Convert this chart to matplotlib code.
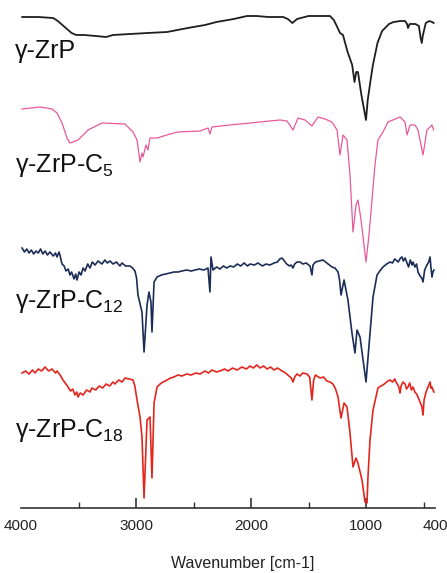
import numpy as np
import matplotlib
matplotlib.use("Agg")
import matplotlib.pyplot as plt

plt.rcParams['font.family'] = ['Liberation Sans', 'DejaVu Sans']
plt.rcParams['mathtext.fontset'] = 'custom'
plt.rcParams['mathtext.rm'] = 'Liberation Sans'
plt.rcParams['mathtext.it'] = 'Liberation Sans'

# ---------------------------------------------------------------------------
# FTIR spectra, stacked (offset transmittance, a.u.)
# ---------------------------------------------------------------------------
wn_zrp = [3990, 3850, 3720, 3680, 3620, 3560, 3520, 3450, 3350, 3260, 3200, 3050, 2900,
          2730, 2550, 2400, 2300, 2150, 2035, 1950, 1850, 1720, 1680, 1640, 1600, 1500,
          1400, 1313, 1280, 1250, 1226, 1200, 1160, 1120, 1100, 1085, 1070, 1040, 1000,
          985, 960, 940, 900, 860, 800, 760, 700, 660, 643, 635, 620, 570, 540, 525, 515,
          505, 480, 450, 425, 412]
t_zrp = [491, 491, 490, 487, 481, 475, 473, 473, 472, 471, 473, 474, 475,
         476, 480, 483, 486, 489, 492, 492, 491, 491, 489, 485, 489, 492,
         492, 492, 488, 481, 475, 473, 456, 443, 426, 436, 436, 413, 388,
         408, 428, 443, 465, 477, 484, 486, 487, 487, 484, 480, 484, 484, 482, 470, 465,
         473, 485, 487, 486, 485]

wn_c5 = [3991, 3835, 3730, 3687, 3643, 3600, 3574, 3504, 3417, 3296, 3096, 3026, 2991,
         2965, 2948, 2939, 2913, 2896, 2878, 2817, 2704, 2635, 2443, 2374, 2357, 2339,
         2183, 1922, 1748, 1687, 1635, 1591, 1530, 1470, 1417, 1357, 1296, 1252, 1226,
         1200, 1165, 1139, 1113, 1087, 1070, 1043, 1000, 974, 948, 922, 896, 852, 809,
         704, 661, 643, 617, 574, 548, 504, 470, 426, 412]
t_c5 = [399, 401, 399, 395, 385, 370, 365, 368, 378, 385, 384, 376, 368,
        346, 355, 351, 363, 358, 370, 370, 374, 376, 377, 380, 374, 381,
        383, 386, 388, 387, 378, 390, 388, 382, 391, 389, 386, 378, 353,
        373, 368, 333, 276, 303, 308, 288, 246, 273, 308, 343, 368, 376, 386,
        391, 386, 373, 383, 383, 378, 353, 378, 383, 378]

wn_c12 = [3991, 3970, 3950, 3930, 3910, 3890, 3870, 3850, 3830, 3810, 3790, 3770, 3748,
          3720, 3700, 3687, 3670, 3661, 3650, 3643, 3625, 3609, 3590, 3574, 3560, 3539,
          3525, 3513, 3495, 3478, 3460, 3443, 3420, 3400, 3380, 3356, 3330, 3296, 3270,
          3250, 3226, 3200, 3170, 3140, 3122, 3090, 3052, 3030, 3009, 2995, 2983, 2948,
          2930, 2904, 2887, 2870, 2861, 2843, 2817, 2780, 2740, 2704, 2670, 2635, 2600,
          2560, 2520, 2487, 2450, 2410, 2374, 2357, 2348, 2330, 2300, 2270, 2240, 2210,
          2183, 2150, 2120, 2090, 2060, 2030, 2009, 1970, 1940, 1900, 1870, 1835, 1800,
          1770, 1750, 1730, 1710, 1690, 1665, 1650, 1635, 1620, 1600, 1574, 1550, 1520,
          1487, 1470, 1461, 1440, 1410, 1374, 1340, 1296, 1270, 1243, 1230, 1217, 1191,
          1157, 1122, 1096, 1078, 1052, 1000, 965, 939, 904, 880, 852, 820, 791, 770,
          750, 739, 720, 700, 687, 675, 660, 643, 630, 615, 600, 591, 575, 560, 548,
          530, 515, 504, 490, 470, 455, 443, 435, 426, 418, 409]
t_c12 = [260, 256, 259, 255, 258, 254, 257, 255, 259, 254, 257, 253, 256,
         252, 255, 251, 256, 253, 247, 244, 242, 237, 239, 233, 236, 229,
         234, 228, 236, 233, 240, 237, 244, 240, 246, 243, 247, 244, 248,
         245, 247, 244, 246, 242, 245, 242, 242, 240, 237, 230, 213, 196,
         156, 203, 216, 206, 176, 226, 231, 233, 234, 235, 236, 236, 237,
         238, 237, 238, 239, 238, 240, 216, 251, 238, 241, 239, 242, 240,
         242, 241, 244, 242, 245, 242, 244, 243, 245, 242, 244, 243, 245,
         246, 249, 250, 247, 244, 242, 243, 240, 244, 246, 246, 244, 245,
         242, 233, 243, 246, 247, 248, 245, 241, 240, 236, 228, 213, 228,
         208, 175, 155, 178, 171, 126, 175, 211, 233, 237, 241, 244, 246, 245,
         249, 248, 246, 250, 251, 247, 250, 245, 241, 248, 243, 246, 241, 244, 236,
         232, 230, 226, 238, 243, 246, 251, 240, 231, 236, 238]

wn_c18 = [3991, 3960, 3930, 3900, 3878, 3850, 3820, 3791, 3760, 3730, 3700, 3687, 3660,
          3635, 3610, 3591, 3570, 3550, 3530, 3515, 3504, 3485, 3460, 3430, 3400, 3383,
          3350, 3320, 3290, 3260, 3230, 3200, 3183, 3150, 3120, 3096, 3060, 3026, 3010,
          2991, 2965, 2948, 2930, 2913, 2904, 2878, 2861, 2843, 2817, 2790, 2765, 2730,
          2700, 2670, 2635, 2600, 2560, 2520, 2480, 2443, 2400, 2370, 2340, 2300, 2270,
          2230, 2200, 2160, 2120, 2080, 2040, 2009, 1980, 1950, 1920, 1890, 1860, 1830,
          1800, 1770, 1730, 1700, 1670, 1650, 1635, 1620, 1600, 1574, 1550, 1513, 1490,
          1470, 1455, 1440, 1426, 1400, 1370, 1340, 1313, 1287, 1265, 1243, 1230, 1217,
          1191, 1165, 1139, 1113, 1087, 1070, 1035, 1009, 991, 983, 965, 939, 896, 870,
          852, 830, 810, 791, 770, 750, 735, 722, 712, 704, 695, 678, 660, 648, 635,
          620, 605, 591, 575, 560, 548, 530, 513, 504, 495, 478, 460, 443, 435, 426,
          418, 409]
t_c18 = [135, 137, 134, 138, 135, 139, 137, 141, 137, 139, 135, 137, 133,
         128, 124, 121, 117, 119, 113, 116, 111, 115, 113, 118, 116, 120,
         118, 122, 120, 124, 122, 126, 124, 128, 126, 130, 129, 128, 122,
         108, 91, 71, 10, 61, 88, 91, 30, 105, 121, 124, 126, 128,
         130, 131, 133, 132, 134, 133, 135, 134, 137, 135, 138, 136, 137,
         139, 137, 140, 138, 141, 139, 142, 140, 143, 140, 142, 139, 141,
         138, 140, 137, 135, 132, 130, 126, 131, 134, 132, 135, 134, 131,
         108, 128, 133, 132, 130, 131, 127, 126, 124, 119, 111, 100, 90,
         105, 101, 75, 41, 50, 45, 28, 6, 5, 31, 68, 98, 120, 122,
         123, 125, 127, 128, 126, 129, 125, 123, 120, 115, 122, 126, 124, 119, 121,
         125, 118, 121, 116, 114, 111, 106, 101, 93, 108, 116, 121, 126, 120, 121,
         118, 116]

labels = ["γ-ZrP", "γ-ZrP-C$_{5}$", "γ-ZrP-C$_{12}$", "γ-ZrP-C$_{18}$"]
label_y = [450, 336, 200, 71]
colors = ["#1e1e1e", "#e8589a", "#1b2d57", "#e3261d"]
widths = [1.3, 0.9, 1.2, 1.2]

series = [(wn_zrp, t_zrp), (wn_c5, t_c5), (wn_c12, t_c12), (wn_c18, t_c18)]

fig = plt.figure(figsize=(4.47, 5.73), dpi=100)
ax = fig.add_axes([21/447, 65/573, 414/447, 508/573])

for (wn, t), c, lw in zip(series, colors, widths):
    ax.plot(wn, t, color=c, lw=lw, solid_joinstyle='round')

for lab, y in zip(labels, label_y):
    ax.text(4052, y, lab, fontsize=18, color="#111111", va='baseline', ha='left', clip_on=False)

ax.set_xlim(4000, 400)
ax.set_ylim(0, 508)
ax.set_yticks([])
for s in ['top', 'left', 'right']:
    ax.spines[s].set_visible(False)
ax.spines['bottom'].set_color('#333333')
ax.spines['bottom'].set_linewidth(1.2)

ax.set_xticks([4000, 3000, 2000, 1000, 400])
ax.set_xticklabels(["4000", "3000", "2000", "1000", "400"])
ax.set_xticks([3500, 2500, 1500, 500], minor=True)
ax.tick_params(axis='x', which='major', direction='in', length=7, width=1.2,
               color='#333333', labelsize=11, labelcolor='#222222', pad=8)
ax.tick_params(axis='x', which='minor', direction='in', length=4, width=1.0, color='#333333')
majors = ax.xaxis.get_major_ticks()
majors[0].tick1line.set_visible(False)
majors[-1].tick1line.set_visible(False)

fig.text(243/447, 5/573, "Wavenumber [cm-1]", fontsize=11.5, color='#222222',
         ha='center', va='baseline')

fig.savefig("out.png", dpi=100)
